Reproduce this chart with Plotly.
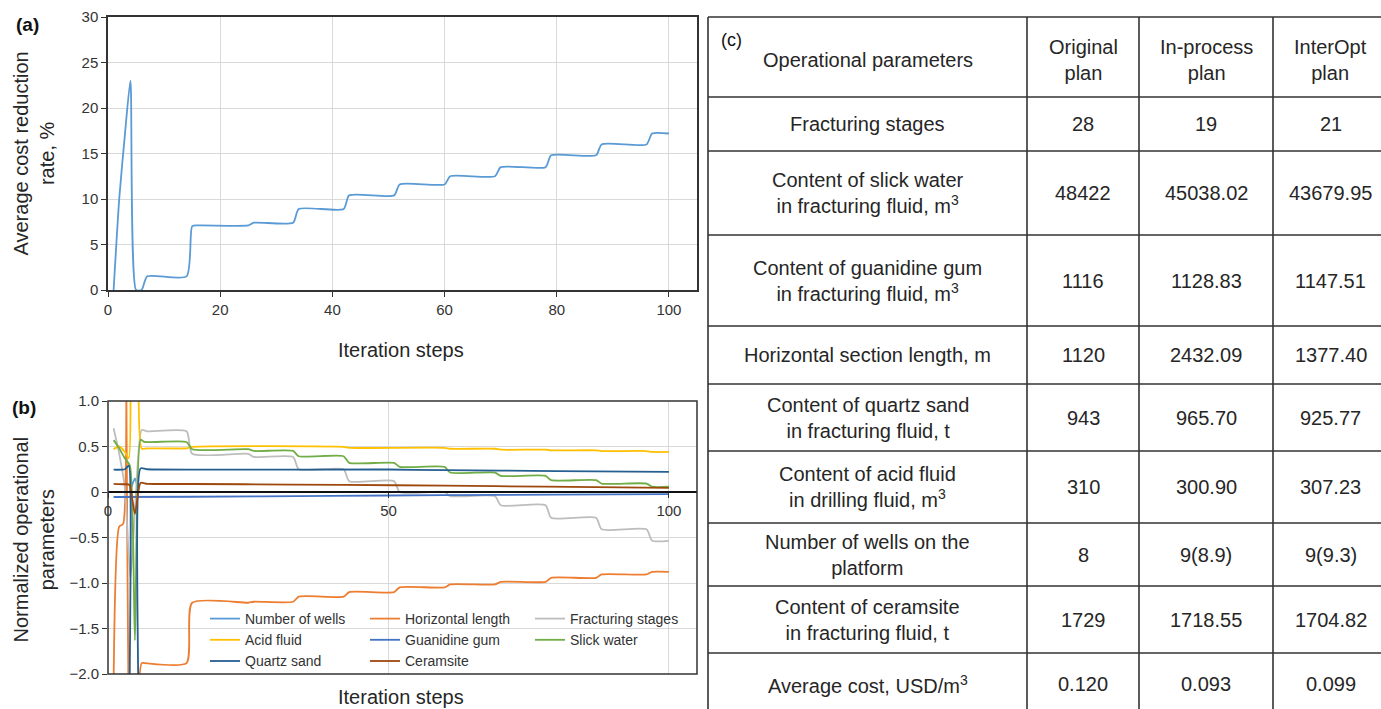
import plotly.graph_objects as go

# ---------------- data ----------------
# (a) average cost reduction rate vs. iteration step
iter_a = [1, 2, 3, 4, 5, 6, 7, 14, 15, 16, 25, 26, 33, 34, 42, 43, 51, 52, 60, 61,
          69, 70, 78, 79, 87, 88, 96, 97, 100]
rate_a = [0, 10, 17, 23, 0, 0, 1.5, 1.5, 7.0, 7.1, 7.1, 7.4, 7.4, 8.9, 8.9, 10.4, 10.4,
          11.6, 11.6, 12.5, 12.5, 13.5, 13.5, 14.8, 14.8, 16.0, 16.0, 17.2, 17.2]

# (b) normalized operational parameters
wells_x = [1, 3.3, 3.8, 4.8, 5.6, 6.5, 100]
wells_y = [0, 0, 0, 0.15, 0, 0, 0]

horiz_x = [1, 2, 2.7, 3, 4, 5, 6, 6.5, 14, 15, 25, 26, 33, 34, 42, 43, 51, 52, 60, 61,
           69, 70, 78, 79, 87, 88, 96, 97, 100]
horiz_y = [-2.1, -0.38, -0.35, 4.0, -5.0, -2.6, -1.88, -1.88, -1.88, -1.217, -1.217,
           -1.206, -1.206, -1.15, -1.15, -1.10, -1.10, -1.048, -1.048, -1.016, -1.016,
           -0.987, -0.987, -0.943, -0.943, -0.906, -0.906, -0.877, -0.877]

frac_x = [1, 2, 3, 4, 5, 6, 7, 14, 15, 25, 26, 33, 34, 42, 43, 51, 52, 60, 61, 69, 70,
          78, 79, 87, 88, 96, 97, 100]
frac_y = [0.70, 0.42, 0.05, -0.95, 0.0, 0.68, 0.667, 0.667, 0.42, 0.42, 0.385, 0.385,
          0.25, 0.25, 0.119, 0.119, 0.0, 0.0, -0.046, -0.046, -0.145, -0.145, -0.284,
          -0.284, -0.41, -0.41, -0.536, -0.536]

acid_x = [1, 2, 3, 3.7, 4.5, 5.3, 6, 7, 14, 15, 42, 43, 60, 61, 69, 70, 78, 79, 87, 88,
          96, 97, 100]
acid_y = [0.47, 0.50, 0.44, 0.37, 5.0, 5.0, 0.477, 0.48, 0.48, 0.495, 0.495, 0.485,
          0.485, 0.475, 0.475, 0.465, 0.465, 0.458, 0.458, 0.45, 0.45, 0.44, 0.44]

guan_x = [1, 15, 40, 60, 80, 100]
guan_y = [-0.055, -0.052, -0.042, -0.035, -0.029, -0.024]

slick_x = [1, 2, 3, 3.9, 4.8, 5.8, 6.5, 14, 15, 25, 26, 33, 34, 42, 43, 51, 52, 60, 61,
           69, 70, 78, 79, 87, 88, 96, 97, 100]
slick_y = [0.57, 0.48, 0.37, 0.29, -1.63, 0.575, 0.55, 0.55, 0.47, 0.47, 0.451, 0.451,
           0.393, 0.393, 0.32, 0.32, 0.276, 0.276, 0.214, 0.214, 0.177, 0.177, 0.13,
           0.13, 0.093, 0.093, 0.058, 0.058]

quartz_x = [1, 3, 3.7, 4.3, 5.1, 5.8, 7, 50, 60, 80, 100]
quartz_y = [0.245, 0.25, 0.29, -4.0, -4.0, 0.26, 0.25, 0.247, 0.24, 0.23, 0.221]

cera_x = [1, 3, 3.8, 4.8, 5.8, 7, 15, 33, 51, 69, 87, 100]
cera_y = [0.09, 0.085, 0.08, -0.24, 0.10, 0.09, 0.088, 0.082, 0.074, 0.064, 0.053, 0.045]

a_xticks = [0, 20, 40, 60, 80, 100]
a_yticks = [0, 5, 10, 15, 20, 25, 30]
b_xticks = [0, 50, 100]
b_yticks = [1.0, 0.5, 0, -0.5, -1.0, -1.5, -2.0]
b_yticktext = ["1.0", "0.5", "0", "\u22120.5", "\u22121.0", "\u22121.5", "\u22122.0"]

# (c) table
table_header = ["Operational parameters", "Original<br>plan", "In-process<br>plan",
                "InterOpt<br>plan"]
param_labels = [
    "Fracturing stages",
    "Content of slick water<br>in fracturing fluid, m<sup>3</sup>",
    "Content of guanidine gum<br>in fracturing fluid, m<sup>3</sup>",
    "Horizontal section length, m",
    "Content of quartz sand<br>in fracturing fluid, t",
    "Content of acid fluid<br>in drilling fluid, m<sup>3</sup>",
    "Number of wells on the<br>platform",
    "Content of ceramsite<br>in fracturing fluid, t",
    "Average cost, USD/m<sup>3</sup>",
]
original_plan = ["28", "48422", "1116", "1120", "943", "310", "8", "1729", "0.120"]
inprocess_plan = ["19", "45038.02", "1128.83", "2432.09", "965.70", "300.90", "9(8.9)",
                  "1718.55", "0.093"]
interopt_plan = ["21", "43679.95", "1147.51", "1377.40", "925.77", "307.23", "9(9.3)",
                 "1704.82", "0.099"]

# ---------------- layout constants (pixels) ----------------
W, H = 1381, 709
PLOT_L, PLOT_R = 108, 697
A_TOP, A_BOT = 17, 290
B_TOP, B_BOT = 401, 674
TBL_COLS = [708, 1027, 1139, 1273, 1388]
TBL_ROWS = [17, 97, 151, 235, 326, 384, 451, 523, 586, 653, 715]
SMOOTH = 0.6

FONT = "Liberation Sans, Arial, sans-serif"
TXT = "#262626"
AX = "#333333"
GRID = "#d9d9d9"


def px_x(p):
    return p / W


def px_y(p):
    return 1 - p / H


fig = go.Figure()

# panel (a)
fig.add_trace(go.Scatter(x=iter_a, y=rate_a, mode="lines", xaxis="x", yaxis="y",
                         line=dict(color="#5B9BD5", width=1.8, shape="spline",
                                   smoothing=SMOOTH),
                         showlegend=False, hoverinfo="skip"))

# panel (b)
series_b = [
    ("Number of wells", wells_x, wells_y, "#5B9BD5", "legend"),
    ("Horizontal length", horiz_x, horiz_y, "#ED7D31", "legend2"),
    ("Fracturing stages", frac_x, frac_y, "#BDBDBD", "legend3"),
    ("Acid fluid", acid_x, acid_y, "#FFC000", "legend"),
    ("Guanidine gum", guan_x, guan_y, "#4472C4", "legend2"),
    ("Slick water", slick_x, slick_y, "#70AD47", "legend3"),
    ("Quartz sand", quartz_x, quartz_y, "#255E91", "legend"),
    ("Ceramsite", cera_x, cera_y, "#9E480E", "legend2"),
]
for name, xs, ys, col, leg in series_b:
    fig.add_trace(go.Scatter(x=xs, y=ys, mode="lines", name=name, xaxis="x2", yaxis="y2",
                             line=dict(color=col, width=1.8, shape="spline",
                                       smoothing=SMOOTH),
                             legend=leg, hoverinfo="skip"))

# table (c): grid lines on a hidden axis pair
tx, ty = [], []
for r in TBL_ROWS:
    tx += [TBL_COLS[0], TBL_COLS[-1], None]
    ty += [r, r, None]
for c in TBL_COLS:
    tx += [c, c, None]
    ty += [TBL_ROWS[0], TBL_ROWS[-1], None]
fig.add_trace(go.Scatter(x=tx, y=ty, mode="lines", xaxis="x3", yaxis="y3",
                         line=dict(color="#333333", width=1.6), showlegend=False,
                         hoverinfo="skip"))

annotations = []
col_centers = [(TBL_COLS[i] + TBL_COLS[i + 1]) / 2 for i in range(4)]
row_centers = [(TBL_ROWS[i] + TBL_ROWS[i + 1]) / 2 for i in range(len(TBL_ROWS) - 1)]
for ci, txt in enumerate(table_header):
    annotations.append(dict(x=col_centers[ci], y=row_centers[0] + 3, xref="x3", yref="y3",
                            text=txt, showarrow=False, font=dict(size=20, color=TXT),
                            align="center", xanchor="center", yanchor="middle"))
for ri in range(len(param_labels)):
    vals = [param_labels[ri], original_plan[ri], inprocess_plan[ri], interopt_plan[ri]]
    for ci, txt in enumerate(vals):
        annotations.append(dict(x=col_centers[ci], y=row_centers[ri + 1], xref="x3",
                                yref="y3", text=txt, showarrow=False,
                                font=dict(size=20, color=TXT), align="center",
                                xanchor="center", yanchor="middle"))
annotations.append(dict(x=719, y=40, xref="x3", yref="y3", text="(c)", showarrow=False,
                        font=dict(size=18, color="#111"), xanchor="left", yanchor="middle"))

# panel labels & axis titles
annotations += [
    dict(x=px_x(27), y=px_y(25), xref="paper", yref="paper", text="<b>(a)</b>",
         showarrow=False, font=dict(size=19, color="#111"), xanchor="center", yanchor="middle"),
    dict(x=px_x(24), y=px_y(407), xref="paper", yref="paper", text="<b>(b)</b>",
         showarrow=False, font=dict(size=19, color="#111"), xanchor="center", yanchor="middle"),
    dict(x=px_x(33), y=px_y((A_TOP + A_BOT) / 2), xref="paper", yref="paper",
         text="Average cost reduction<br>rate, %", textangle=-90, showarrow=False,
         font=dict(size=20, color=TXT), xanchor="center", yanchor="middle"),
    dict(x=px_x(33), y=px_y((B_TOP + B_BOT) / 2 + 2), xref="paper", yref="paper",
         text="Normalized operational<br>parameters", textangle=-90, showarrow=False,
         font=dict(size=20, color=TXT), xanchor="center", yanchor="middle"),
    dict(x=px_x(401), y=px_y(350), xref="paper", yref="paper", text="Iteration steps",
         showarrow=False, font=dict(size=20, color=TXT), xanchor="center", yanchor="middle"),
    dict(x=px_x(401), y=px_y(697), xref="paper", yref="paper", text="Iteration steps",
         showarrow=False, font=dict(size=20, color=TXT), xanchor="center", yanchor="middle"),
]

b_dom = [px_y(B_BOT), px_y(B_TOP)]
b_range = [-2, 1]
zero_pos = b_dom[0] + (0 - b_range[0]) / (b_range[1] - b_range[0]) * (b_dom[1] - b_dom[0])

tick_common = dict(ticks="outside", ticklen=5, tickwidth=1.2, tickcolor=AX,
                   tickfont=dict(size=15, color=AX, family=FONT))

legend_common = dict(xanchor="left", yanchor="top", bgcolor="rgba(0,0,0,0)",
                     font=dict(size=14, color=AX, family=FONT), orientation="v",
                     itemwidth=30, tracegroupgap=0)

fig.update_layout(
    width=W, height=H, margin=dict(l=0, r=0, t=0, b=0, autoexpand=False),
    paper_bgcolor="white", plot_bgcolor="white",
    font=dict(family=FONT, color=TXT),
    xaxis=dict(domain=[px_x(PLOT_L), px_x(PLOT_R)], anchor="y", range=[0, 105],
               tickvals=a_xticks, showgrid=True, gridcolor=GRID, gridwidth=1,
               zeroline=False, showline=True, linecolor=AX, linewidth=1.5, mirror=True,
               **tick_common),
    yaxis=dict(domain=[px_y(A_BOT), px_y(A_TOP)], anchor="x", range=[0, 30],
               tickvals=a_yticks, showgrid=True, gridcolor=GRID, gridwidth=1,
               zeroline=False, showline=True, linecolor=AX, linewidth=1.5, mirror=True,
               **tick_common),
    xaxis2=dict(domain=[px_x(PLOT_L), px_x(PLOT_R)], anchor="free", position=zero_pos,
                range=[0, 105], tickvals=b_xticks, showgrid=True, gridcolor=GRID,
                gridwidth=1, zeroline=False, showline=True, linecolor="#111",
                linewidth=1.6, **tick_common),
    yaxis2=dict(domain=b_dom, anchor="x2", range=b_range, tickvals=b_yticks,
                ticktext=b_yticktext, showgrid=True, gridcolor=GRID, gridwidth=1,
                zeroline=False, showline=False, **tick_common),
    xaxis3=dict(domain=[px_x(700), 1], anchor="y3", range=[700, W], visible=False,
                fixedrange=True),
    yaxis3=dict(domain=[0, 1], anchor="x3", range=[H, 0], visible=False, fixedrange=True),
    legend=dict(x=px_x(205), y=px_y(603), **legend_common),
    legend2=dict(x=px_x(365), y=px_y(603), **legend_common),
    legend3=dict(x=px_x(530), y=px_y(603), **legend_common),
    annotations=annotations,
    shapes=[dict(type="rect", xref="x2 domain", yref="y2 domain", x0=0, x1=1, y0=0, y1=1,
                 line=dict(color=AX, width=1.5), layer="above")],
)

fig.write_html(
    "out.html",
    config={"displayModeBar": False, "responsive": False},
    post_script=("document.body.style.margin='0';document.body.style.padding='0';"
                 "document.documentElement.style.overflow='hidden';"
                 "document.body.style.overflow='hidden';"),
)
